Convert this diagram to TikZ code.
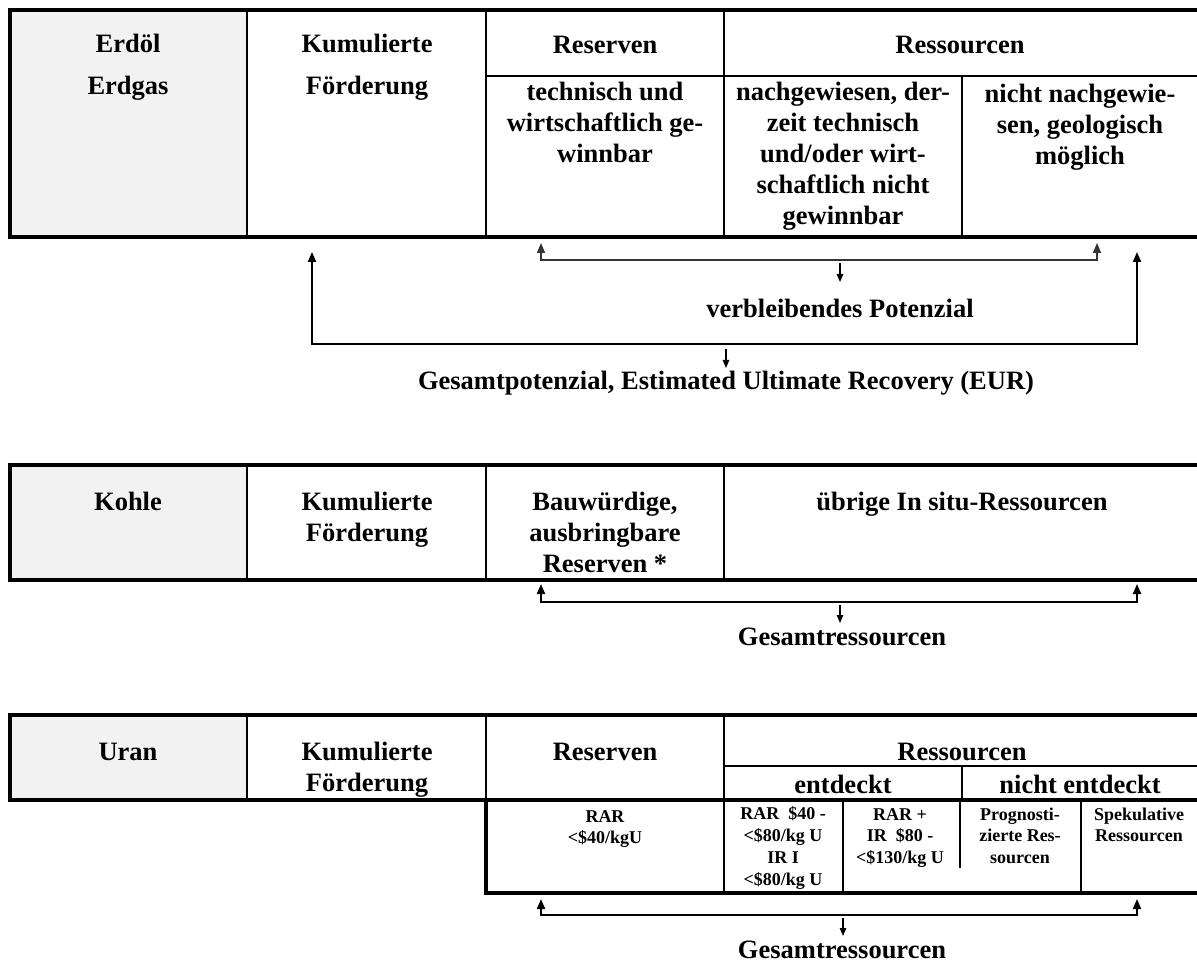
\documentclass[tikz,border=0pt]{standalone}
\usepackage{fontspec}
\setmainfont{Liberation Serif}
\usetikzlibrary{arrows.meta}
\definecolor{cellgray}{HTML}{F2F2F2}
\begin{document}
\begin{tikzpicture}[x=1pt,y=-1pt,
  frame/.style={line width=4.5pt},
  grid/.style={line width=2pt},
  big/.style={font=\fontsize{26.5}{31}\selectfont\bfseries, inner sep=0pt, align=center, anchor=base},
  small/.style={font=\fontsize{18}{21.7}\selectfont\bfseries, inner sep=0pt, align=center, anchor=base},
  bracket/.style={line width=2pt, {Triangle[width=8pt,length=10pt]}-{Triangle[width=8pt,length=10pt]}},
  thinbracket/.style={line width=1.3pt, black!80, {Triangle[width=8pt,length=10pt]}-{Triangle[width=8pt,length=10pt]}},
  downarrow/.style={line width=1.2pt, -{Triangle[width=6.5pt,length=8pt]}},
]
\useasboundingbox (0,0) rectangle (1197,965);

% ---------------- Erdoel / Erdgas ----------------
\fill[cellgray] (10,10) rectangle (247,237);
\draw[grid] (247,10) -- (247,237);
\draw[grid] (486,10) -- (486,237);
\draw[grid] (724,10) -- (724,237);
\draw[grid] (486,76) -- (1197,76);
\draw[grid] (962,76) -- (962,237);
\draw[frame] (1197,10) -- (10,10) -- (10,237) -- (1197,237);

% multi-line nodes: anchor=base is the baseline of the last line
\node[big] (erdoel) at (128,53) {Erdöl};
\node[big] (erdgas) at (128,95) {Erdgas};
\node[big] (kum1) at (367,53) {Kumulierte};
\node[big] (foe1) at (367,95) {Förderung};
\node[big] (res1) at (605,54) {Reserven};
\node[big] (ress1) at (960,54) {Ressourcen};
\node[big] (tech) at (605,163) {technisch und\\wirtschaftlich ge-\\winnbar};
\node[big] (nachg) at (843,225) {nachgewiesen, der-\\zeit technisch\\und/oder wirt-\\schaftlich nicht\\gewinnbar};
\node[big] (nichtn) at (1080,165) {nicht nachgewie-\\sen, geologisch\\möglich};

\coordinate (iL) at (541,243);
\coordinate (iLc) at (541,260);
\coordinate (iRc) at (1097,260);
\coordinate (iR) at (1097,243);
\draw[thinbracket] (iL) -- (iLc) -- (iRc) -- (iR);
\coordinate (iDs) at (840,263);
\coordinate (iDe) at (840,282);
\draw[downarrow] (iDs) -- (iDe);
\node[big] (verb) at (840,318) {verbleibendes Potenzial};

\coordinate (oL) at (312,252);
\coordinate (oLc) at (312,344);
\coordinate (oRc) at (1137,344);
\coordinate (oR) at (1137,252);
\draw[bracket] (oL) -- (oLc) -- (oRc) -- (oR);
\coordinate (oDs) at (726,349);
\coordinate (oDe) at (726,368);
\draw[downarrow] (oDs) -- (oDe);
\node[big] (eur) at (726,390) {Gesamtpotenzial, Estimated Ultimate Recovery (EUR)};

% ---------------- Kohle ----------------
\fill[cellgray] (10,465) rectangle (247,580);
\draw[grid] (247,465) -- (247,580);
\draw[grid] (486,465) -- (486,580);
\draw[grid] (724,465) -- (724,580);
\draw[frame] (1197,465) -- (10,465) -- (10,580) -- (1197,580);

\node[big] (kohle) at (128,510) {Kohle};
\node[big] (kum2) at (367,541) {Kumulierte\\Förderung};
\node[big] (bau) at (605,572) {Bauwürdige,\\ausbringbare\\Reserven *};
\node[big] (uebr) at (962,510) {übrige In situ-Ressourcen};

\coordinate (kL) at (541,584);
\coordinate (kLc) at (541,602);
\coordinate (kRc) at (1137,602);
\coordinate (kR) at (1137,584);
\draw[bracket] (kL) -- (kLc) -- (kRc) -- (kR);
\coordinate (kDs) at (840,605);
\coordinate (kDe) at (840,623);
\draw[downarrow] (kDs) -- (kDe);
\node[big] (gres1) at (842,645) {Gesamtressourcen};

% ---------------- Uran ----------------
\fill[cellgray] (10,715) rectangle (247,800);
\draw[grid] (247,715) -- (247,800);
\draw[grid] (486,715) -- (486,800);
\draw[grid] (724,715) -- (724,893);
\draw[grid] (724,766) -- (1197,766);
\draw[grid] (962,766) -- (962,800);
\draw[grid] (843,800) -- (843,893);
\draw[grid] (1081,800) -- (1081,893);
\draw[grid] (960,800) -- (960,868);
\draw[frame] (1197,715) -- (10,715) -- (10,800) -- (1197,800);
\draw[frame] (486,800) -- (486,893) -- (1197,893);

\node[big] (uran) at (128,760) {Uran};
\node[big] (kum3) at (367,791) {Kumulierte\\Förderung};
\node[big] (res3) at (605,760) {Reserven};
\node[big] (ress3) at (962,760) {Ressourcen};
\node[big] (entd) at (843,793) {entdeckt};
\node[big] (nentd) at (1080,793) {nicht entdeckt};

\node[small] (rar) at (605,843.7) {RAR\\<\$40/kgU};
\node[small] (rar40) at (783,885) {RAR~~\$40 -\\<\$80/kg U\\IR I\\<\$80/kg U};
\node[small] (rar80) at (900,863.4) {RAR +\\IR~~\$80 -\\<\$130/kg U};
\node[small] (prog) at (1020,863.4) {Prognosti-\\zierte Res-\\sourcen};
\node[small] (spek) at (1139,841.7) {Spekulative\\Ressourcen};

\coordinate (uL) at (541,899);
\coordinate (uLc) at (541,915);
\coordinate (uRc) at (1137,915);
\coordinate (uR) at (1137,899);
\draw[bracket] (uL) -- (uLc) -- (uRc) -- (uR);
\coordinate (uDs) at (843,918);
\coordinate (uDe) at (843,936);
\draw[downarrow] (uDs) -- (uDe);
\node[big] (gres2) at (842,958) {Gesamtressourcen};
\end{tikzpicture}
\end{document}
